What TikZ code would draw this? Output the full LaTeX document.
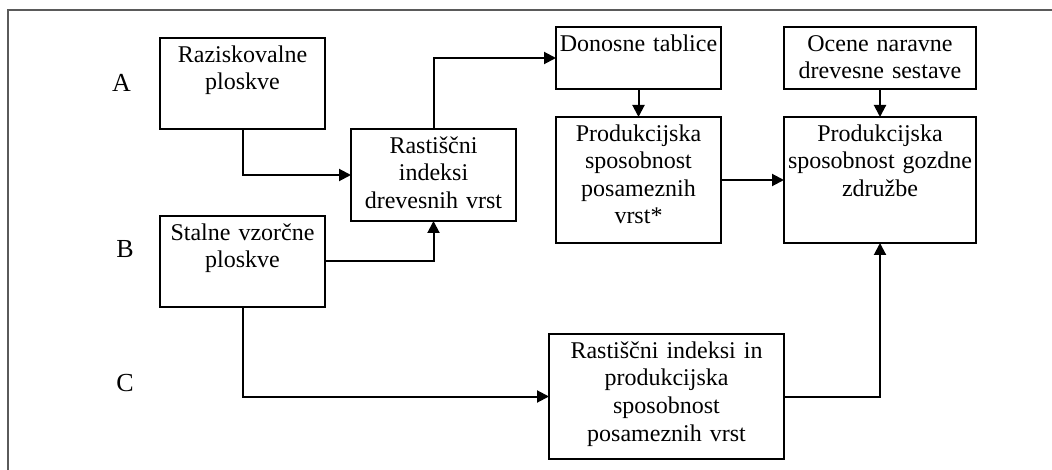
\documentclass[tikz,border=0pt]{standalone}
\usepackage{fontspec}
\setmainfont{Liberation Serif}
\usepackage{xcolor}
\definecolor{framegray}{RGB}{90,90,90}
\usepackage{tikz}
\usetikzlibrary{arrows.meta, positioning}

\tikzset{
  box/.style 2 args={draw, line width=1.8pt, anchor=north west, inner sep=0pt, outer sep=0pt,
    align=center, text width=#1, text height=24.5pt, text depth=#2,
    font=\fontsize{24}{27.5}\selectfont},
  row/.style={font=\fontsize{26}{30}\selectfont},
  arr/.style={-{Triangle[length=12pt,width=12pt]}, line width=2pt}
}

\begin{document}
\begin{tikzpicture}[x=1pt, y=-1pt]
  \useasboundingbox (0,0) rectangle (1052,470);
  % Frame (cut off on right and bottom)
  \draw[framegray, line width=1.8pt] (8,470) -- (8,10) -- (1052,10);

  % --- Row letters ---
  \node[row] (lblA) at (121.5,83) {A};
  \node[row] (lblB) at (125,249) {B};
  \node[row] (lblC) at (125,383) {C};

  % --- Left column ---
  \node[box={165pt}{66.5pt}] (raz) at (160,38) {Raziskovalne\\ploskve};
  \node[box={165pt}{66.5pt}] (stal) at (160,216) {Stalne vzorčne\\ploskve};
  \node[box={165pt}{67.5pt}] (rast) at (351,129) {Rastiščni\\indeksi\\drevesnih vrst};

  % --- Upper right ---
  \node[box={165pt}{37.5pt}] (don) at (556,27) {Donosne tablice};
  \node[box={165pt}{101.5pt}] (pms) at (556,117) {Produkcijska\\sposobnost\\posameznih\\vrst*};
  \node[box={192pt}{37.5pt}] (oce) at (784,27) {Ocene naravne\\drevesne sestave};
  \node[box={192pt}{101.5pt}] (pgz) at (784,117) {Produkcijska\\sposobnost gozdne\\združbe};

  % --- Bottom ---
  \node[box={235pt}{100.5pt}] (rip) at (549,334) {Rastiščni indeksi in\\produkcijska\\sposobnost\\posameznih vrst};

  % Connectors
  \draw[arr] (raz.south) |- (rast.west);
  \draw[arr] (stal.east) -| (rast.south);
  \draw[arr] (rast.north) |- (don.west);
  \draw[arr] (don.south) -- (pms.north);
  \draw[arr] (oce.south) -- (pgz.north);
  \draw[arr] (pms.east) -- (pgz.west);
  \draw[arr] (stal.south) |- (rip.west);
  \draw[arr] (rip.east) -| (pgz.south);
\end{tikzpicture}
\end{document}
